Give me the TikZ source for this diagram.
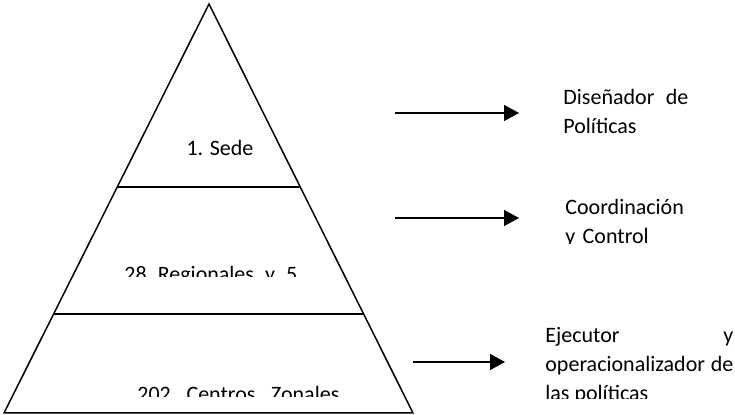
\documentclass[tikz,border=0pt]{standalone}
\usepackage{fontspec}
\setmainfont{Carlito}
\usetikzlibrary{arrows.meta,calc}
\hyphenpenalty=10000
\sloppy

\begin{document}
\begin{tikzpicture}[x=0.5pt, y=-0.5pt,
    edge/.style={line width=0.75pt, black},
    arrow/.style={line width=0.7pt, black, -{Triangle[length=7.5pt, width=8pt]}},
    label/.style={inner sep=0pt, font=\fontsize{11}{14.5}\selectfont},
    role/.style={label, anchor=base west, align=justify}]
  \useasboundingbox (0,0) rectangle (735,415);

  % Pyramid
  \coordinate (apex) at (209,4);
  \coordinate (bl) at (4,413);
  \coordinate (br) at (413,413);
  \draw[edge, line join=miter] (apex) -- (br) -- (bl) -- cycle;

  % Level lines
  \draw[edge] ($(apex)!0.447!(bl)$) -- ($(apex)!0.447!(br)$);
  \draw[edge] ($(apex)!0.758!(bl)$) -- ($(apex)!0.758!(br)$);

  % Levels
  \node[label, anchor=base] (sede) at (220,156) {1. Sede};
  \begin{scope}
    \clip (0,0) rectangle (735,277);
    \node[label, anchor=base west] (regionales) at (124,282)
      {\makebox[86.5pt][s]{28 Regionales y 5}};
  \end{scope}
  \begin{scope}
    \clip (0,0) rectangle (735,397);
    \node[label, anchor=base west] (centros) at (137,402)
      {\makebox[101pt][s]{202 Centros Zonales}};
  \end{scope}

  % Arrows
  \coordinate (a1s) at (395,113);
  \coordinate (a1e) at (519,113);
  \coordinate (a2s) at (395,218);
  \coordinate (a2e) at (519,218);
  \coordinate (a3s) at (413,362);
  \coordinate (a3e) at (505,362);
  \draw[arrow] (a1s) -- (a1e);
  \draw[arrow] (a2s) -- (a2e);
  \draw[arrow] (a3s) -- (a3e);

  % Roles
  \node[role, text width=62.5pt] (disenador) at (563,105)
    {Diseñador de\linebreak Políticas};
  \begin{scope}
    \clip (0,0) rectangle (735,244);
    \node[role, align=left, text width=62.5pt] (coordinacion) at (565,215)
      {Coordinación\\ y Control};
  \end{scope}
  \begin{scope}
    \clip (0,0) rectangle (735,399);
    \node[role, text width=94pt] (ejecutor) at (545,343)
      {Ejecutor y\linebreak operacionalizador de\linebreak las políticas};
  \end{scope}
\end{tikzpicture}
\end{document}
